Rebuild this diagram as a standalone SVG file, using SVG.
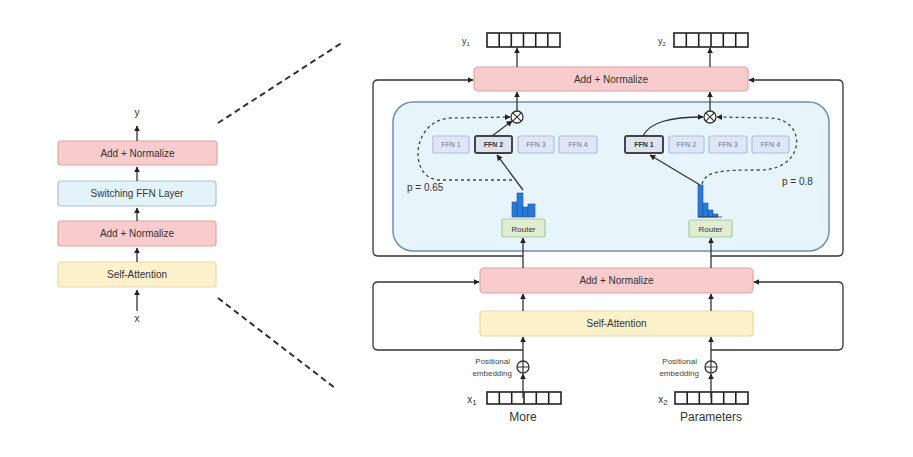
<svg xmlns="http://www.w3.org/2000/svg" width="913" height="457" viewBox="0 0 913 457">
<defs>
<style>
text{font-family:"Liberation Sans",Arial,sans-serif;fill:#333}
.pink{fill:#f8cccc;stroke:#e3a2a2;stroke-width:1.2}
.blue{fill:#e4f3fa;stroke:#a9c3d3;stroke-width:1.2}
.yel{fill:#fcf1cb;stroke:#ead9a0;stroke-width:1.2}
.ffn{fill:#dfe7f6;stroke:#aebedf;stroke-width:1.2}
.ffnb{fill:#dde3ef;stroke:#444;stroke-width:2}
.rt{fill:#dfedd3;stroke:#adc9a0;stroke-width:1.2}
.lbl{font-size:10px;text-anchor:middle}
.fl{font-size:7px;text-anchor:middle;fill:#6a7590}
.fb{font-size:7px;text-anchor:middle;font-weight:bold;fill:#333}
.ln{fill:none;stroke:#333;stroke-width:1.3}
.dl{fill:none;stroke:#444;stroke-width:1.3;stroke-dasharray:3,3}
.zd{fill:none;stroke:#333;stroke-width:2;stroke-dasharray:6,4}
.vec{fill:#fff;stroke:#222;stroke-width:1.6}
.bar{fill:#2a78d8;stroke:#1a55a8;stroke-width:0.6}
</style>
<marker id="ah" viewBox="0 0 10 10" refX="9" refY="5" markerWidth="6" markerHeight="6" orient="auto-start-reverse" markerUnits="userSpaceOnUse">
<path d="M0,0 L10,5 L0,10 z" fill="#222"/>
</marker>
</defs>
<rect width="913" height="457" fill="#fff"/>

<!-- Left stack -->
<g id="left-y"><text x="137" y="116" class="lbl">y</text></g>
<g id="left-addnorm2"><rect x="58" y="141" width="159" height="24" rx="3" class="pink"/><text x="137.5" y="156.5" class="lbl">Add + Normalize</text></g>
<g id="left-switch"><rect x="58" y="181" width="158" height="25" rx="3" class="blue"/><text x="137" y="197" class="lbl">Switching FFN Layer</text></g>
<g id="left-addnorm1"><rect x="58" y="221" width="158" height="25" rx="3" class="pink"/><text x="137" y="237" class="lbl">Add + Normalize</text></g>
<g id="left-selfatt"><rect x="58" y="262" width="158" height="25" rx="3" class="yel"/><text x="137" y="278" class="lbl">Self-Attention</text></g>
<g id="left-x"><text x="137" y="322" class="lbl">x</text></g>

<!-- Right: top outputs -->
<g id="y1"><text x="466" y="44" style="font-size:9px;text-anchor:middle">y<tspan font-size="6" dy="2">1</tspan></text>
<rect x="487" y="33" width="73" height="14" class="vec"/>
<path d="M499.2 33v14M511.3 33v14M523.5 33v14M535.7 33v14M547.8 33v14" stroke="#222" stroke-width="1.6"/></g>
<g id="y2"><text x="662" y="44" style="font-size:9px;text-anchor:middle">y<tspan font-size="6" dy="2">2</tspan></text>
<rect x="674" y="33" width="74" height="14" class="vec"/>
<path d="M686.3 33v14M698.7 33v14M711 33v14M723.3 33v14M735.7 33v14" stroke="#222" stroke-width="1.6"/></g>

<g id="top-addnorm"><rect x="474" y="67" width="274" height="24" rx="4" class="pink"/><text x="611" y="82.5" class="lbl">Add + Normalize</text></g>

<g id="switch-layer"><rect x="393" y="102" width="436" height="149" rx="20" fill="#e7f4fb" stroke="#6f8fb5" stroke-width="1.5"/></g>

<g id="mul1"><circle cx="517" cy="117" r="6" fill="#fff" stroke="#333" stroke-width="1.3"/><path d="M512.8 112.8l8.4 8.4M521.2 112.8l-8.4 8.4" stroke="#333" stroke-width="1.2"/></g>
<g id="mul2"><circle cx="710" cy="117" r="6" fill="#fff" stroke="#333" stroke-width="1.3"/><path d="M705.8 112.8l8.4 8.4M714.2 112.8l-8.4 8.4" stroke="#333" stroke-width="1.2"/></g>

<g id="l-ffn1"><rect x="433" y="136" width="36" height="17" rx="2" class="ffn"/><text x="451" y="147" class="fl">FFN 1</text></g>
<g id="l-ffn2"><rect x="475" y="136" width="37" height="17" rx="2" class="ffnb"/><text x="493.5" y="147" class="fb">FFN 2</text></g>
<g id="l-ffn3"><rect x="518" y="136" width="36" height="17" rx="2" class="ffn"/><text x="536" y="147" class="fl">FFN 3</text></g>
<g id="l-ffn4"><rect x="559" y="136" width="38" height="17" rx="2" class="ffn"/><text x="578" y="147" class="fl">FFN 4</text></g>

<g id="r-ffn1"><rect x="625" y="136" width="38" height="17" rx="2" class="ffnb"/><text x="644" y="147" class="fb">FFN 1</text></g>
<g id="r-ffn2"><rect x="669" y="136" width="35" height="17" rx="2" class="ffn"/><text x="686.5" y="147" class="fl">FFN 2</text></g>
<g id="r-ffn3"><rect x="709" y="136" width="38" height="17" rx="2" class="ffn"/><text x="728" y="147" class="fl">FFN 3</text></g>
<g id="r-ffn4"><rect x="752" y="136" width="37" height="17" rx="2" class="ffn"/><text x="770.5" y="147" class="fl">FFN 4</text></g>

<g id="l-hist">
<rect x="512" y="202" width="5" height="15" class="bar"/>
<rect x="517" y="193" width="6" height="24" class="bar"/>
<rect x="523" y="207" width="5" height="10" class="bar"/>
<rect x="528" y="204" width="7" height="13" class="bar"/>
</g>
<g id="r-hist">
<rect x="698" y="185" width="5" height="32" class="bar"/>
<rect x="703" y="203" width="5" height="14" class="bar"/>
<rect x="708" y="210" width="5" height="7" class="bar"/>
<rect x="713" y="214" width="5" height="3" class="bar"/>
<path d="M698 217h24" stroke="#333" stroke-width="0.8"/>
</g>

<g id="l-router"><rect x="502" y="219" width="43" height="18" rx="2" class="rt"/><text x="523.5" y="231.5" style="font-size:8px;text-anchor:middle">Router</text></g>
<g id="r-router"><rect x="689" y="220" width="43" height="17" rx="2" class="rt"/><text x="710.5" y="232" style="font-size:8px;text-anchor:middle">Router</text></g>

<g id="p-labels">
<text x="407" y="191" style="font-size:10px">p = 0.65</text>
<text x="782" y="185" style="font-size:10px">p = 0.8</text>
</g>

<g id="mid-addnorm"><rect x="480" y="268" width="273" height="25" rx="4" class="pink"/><text x="616.5" y="284" class="lbl">Add + Normalize</text></g>
<g id="self-attention"><rect x="480" y="311" width="273" height="25" rx="3" class="yel"/><text x="616.5" y="327" class="lbl">Self-Attention</text></g>

<g id="pos1"><circle cx="523" cy="367" r="6" fill="#fff" stroke="#333" stroke-width="1.3"/><path d="M517 367h12M523 361v12" stroke="#333" stroke-width="1.2"/>
<text x="510" y="364" style="font-size:8px;text-anchor:end;fill:#444">Positional</text><text x="512" y="376" style="font-size:8px;text-anchor:end;fill:#444">embedding</text></g>
<g id="pos2"><circle cx="711" cy="367" r="6" fill="#fff" stroke="#333" stroke-width="1.3"/><path d="M705 367h12M711 361v12" stroke="#333" stroke-width="1.2"/>
<text x="697" y="364" style="font-size:8px;text-anchor:end;fill:#444">Positional</text><text x="699" y="376" style="font-size:8px;text-anchor:end;fill:#444">embedding</text></g>

<g id="x1"><text x="472" y="403" style="font-size:10px;text-anchor:middle">x<tspan font-size="8" dy="2">1</tspan></text>
<rect x="487" y="392" width="74" height="12" class="vec"/>
<path d="M499.3 392v12M511.7 392v12M524 392v12M536.3 392v12M548.7 392v12" stroke="#222" stroke-width="1.6"/>
<text x="523" y="421" style="font-size:12px;text-anchor:middle">More</text></g>
<g id="x2"><text x="663" y="403" style="font-size:10px;text-anchor:middle">x<tspan font-size="8" dy="2">2</tspan></text>
<rect x="675" y="392" width="73" height="12" class="vec"/>
<path d="M687.2 392v12M699.3 392v12M711.5 392v12M723.7 392v12M735.8 392v12" stroke="#222" stroke-width="1.6"/>
<text x="711" y="421" style="font-size:12px;text-anchor:middle">Parameters</text></g>

<g id="connectors">
<!-- zoom dashes -->
<path d="M218 123L343 42" class="zd"/>
<path d="M218 298L335 388" class="zd"/>
<!-- left stack -->
<path d="M137 311V290" class="ln" marker-end="url(#ah)"/>
<path d="M137 262V248" class="ln" marker-end="url(#ah)"/>
<path d="M137 221V208" class="ln" marker-end="url(#ah)"/>
<path d="M137 181V167" class="ln" marker-end="url(#ah)"/>
<path d="M137 141V126" class="ln" marker-end="url(#ah)"/>
<!-- outputs -->
<path d="M517 67V48" class="ln" marker-end="url(#ah)"/>
<path d="M710 67V48" class="ln" marker-end="url(#ah)"/>
<path d="M517 111V92" class="ln" marker-end="url(#ah)"/>
<path d="M710 111V92" class="ln" marker-end="url(#ah)"/>
<!-- residual upper -->
<path d="M523 256H378Q373 256 373 251V85Q373 80 378 80H473" class="ln" marker-end="url(#ah)"/>
<path d="M711 256H838Q843 256 843 251V85Q843 80 838 80H749" class="ln" marker-end="url(#ah)"/>
<!-- residual lower -->
<path d="M523 350H378Q373 350 373 345V287Q373 282 378 282H479" class="ln" marker-end="url(#ah)"/>
<path d="M711 350H838Q843 350 843 345V287Q843 282 838 282H754" class="ln" marker-end="url(#ah)"/>
<!-- verticals -->
<path d="M523 268V238" class="ln" marker-end="url(#ah)"/>
<path d="M711 268V238" class="ln" marker-end="url(#ah)"/>
<path d="M523 311V294" class="ln" marker-end="url(#ah)"/>
<path d="M711 311V294" class="ln" marker-end="url(#ah)"/>
<path d="M523 361V337" class="ln" marker-end="url(#ah)"/>
<path d="M711 361V337" class="ln" marker-end="url(#ah)"/>
<path d="M523 398V374" class="ln" marker-end="url(#ah)"/>
<path d="M711 398V374" class="ln" marker-end="url(#ah)"/>
<!-- routing left -->
<path d="M523 190L497 155" class="ln" marker-end="url(#ah)"/>
<path d="M492 136L512 121" class="ln" marker-end="url(#ah)"/>
<path d="M512 180H440C408 180 410 119 452 118L510 117" class="dl" marker-end="url(#ah)"/>
<!-- routing right -->
<path d="M700 185L650 155" class="ln" marker-end="url(#ah)"/>
<path d="M643 136C650 122 670 117 703 117" class="ln" marker-end="url(#ah)"/>
<path d="M702 184C706 171 720 170 760 170C806 170 808 119 770 118L717 117" class="dl" marker-end="url(#ah)"/>
</g>
</svg>
